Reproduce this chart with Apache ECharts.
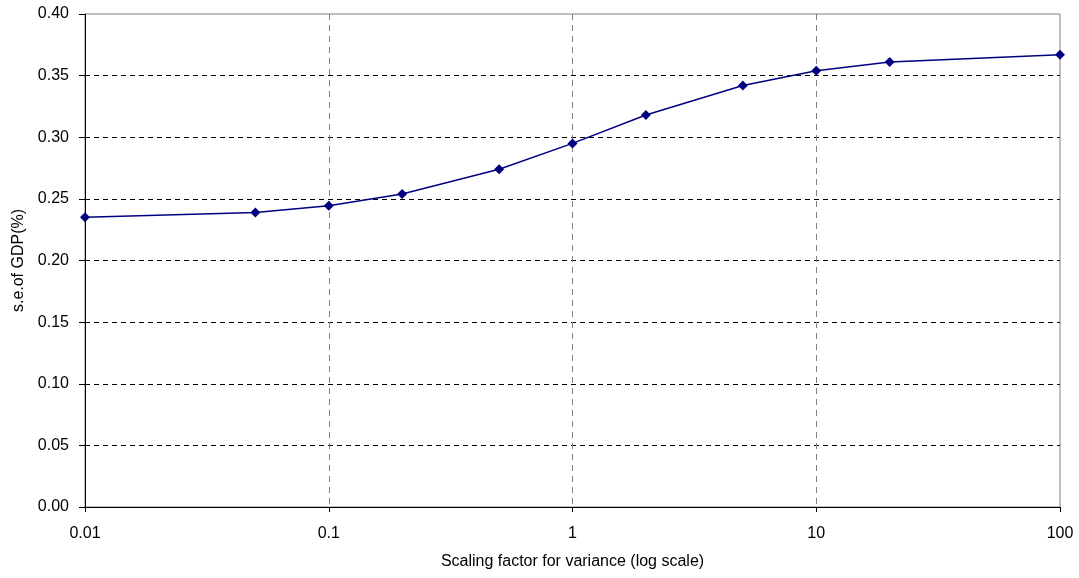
<!DOCTYPE html>
<html>
<head>
<meta charset="utf-8">
<script src="https://cdn.jsdelivr.net/npm/echarts@6/dist/echarts.min.js"></script>
<style>html,body{margin:0;padding:0;background:#fff}#c{width:1079px;height:578px}</style>
</head>
<body>
<div id="c"></div>
<script>
var xValues = [0.01, 0.05, 0.1, 0.2, 0.5, 1, 2, 5, 10, 20, 100];
var seValues = [0.235, 0.239, 0.2445, 0.254, 0.274, 0.295, 0.318, 0.342, 0.354, 0.361, 0.367];
var xAxisTitle = 'Scaling factor for variance (log scale)';
var yAxisTitle = 's.e.of GDP(%)';

var chart = echarts.init(document.getElementById('c'), null, {renderer: 'canvas'});
var font = 'Liberation Sans, Arial, sans-serif';
chart.setOption({
  animation: false,
  backgroundColor: '#fff',
  grid: {left: 85, right: 19, top: 14, bottom: 71, show: true, borderColor: '#808080', borderWidth: 1},
  xAxis: {
    type: 'log', logBase: 10, min: 0.01, max: 100,
    name: xAxisTitle, nameLocation: 'middle', nameGap: 47,
    nameTextStyle: {fontFamily: font, fontSize: 16, color: '#000'},
    axisLine: {show: true, lineStyle: {color: '#000', width: 1}},
    axisTick: {show: true, length: 5, lineStyle: {color: '#000'}},
    minorTick: {show: false},
    axisLabel: {fontFamily: font, fontSize: 16, color: '#000', margin: 19,
      formatter: function (v) { return String(+v.toPrecision(6)); }},
    splitLine: {show: true, showMinLine: false, showMaxLine: false,
      lineStyle: {color: '#808080', type: [6, 5], width: 1}}
  },
  yAxis: {
    type: 'value', min: 0, max: 0.4, interval: 0.05,
    name: yAxisTitle, nameLocation: 'middle', nameGap: 56, nameRotate: 90,
    nameTextStyle: {fontFamily: font, fontSize: 16, color: '#000'},
    axisLine: {show: true, lineStyle: {color: '#000', width: 1}},
    axisTick: {show: true, length: 6, lineStyle: {color: '#000'}},
    axisLabel: {fontFamily: font, fontSize: 16, color: '#000', margin: 16,
      formatter: function (v) { return v.toFixed(2); }},
    splitLine: {show: true, showMinLine: false, showMaxLine: false,
      lineStyle: {color: '#000', type: [5, 4], width: 1}}
  },
  series: [{
    type: 'line',
    data: xValues.map(function (x, i) { return [x, seValues[i]]; }),
    symbol: 'diamond', symbolSize: 10,
    showAllSymbol: true,
    lineStyle: {color: '#000080', width: 1.5},
    itemStyle: {color: '#000080'}
  }]
});
</script>
</body>
</html>
